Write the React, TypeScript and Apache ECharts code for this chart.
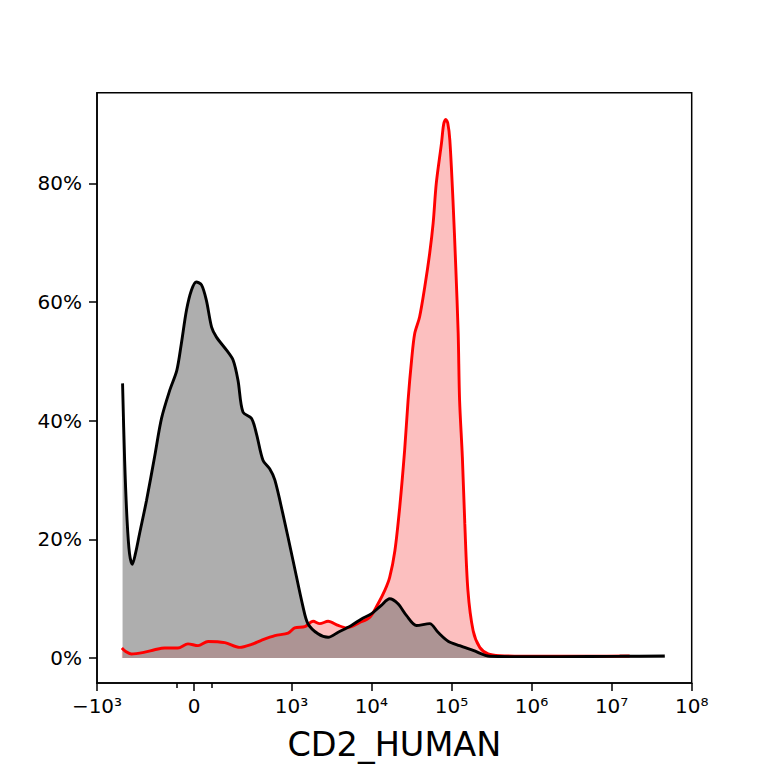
import { useEffect, useRef } from "react";
import * as echarts from "echarts";

// channel shown on the x axis
const CHANNEL = "CD2_HUMAN";

// x values are in transformed channel units: asinh(intensity / cofactor)
const COFACTOR = 122.7;

// control sample (black outline, grey fill)
const CONTROL_X = [
  -2.06, -2.0, -1.93, -1.86, -1.78, -1.69, -1.57, -1.37, -1.14, -0.94, -0.7, -0.5, -0.37, -0.22,
  -0.08, 0.06, 0.21, 0.35, 0.5, 0.64, 0.93, 1.12, 1.26, 1.4, 1.65, 1.79, 1.98, 2.17, 2.32, 2.55,
  2.84, 3.13, 3.27, 3.56, 3.85, 4.14, 4.52, 4.81, 5.1, 5.38, 5.62, 5.86, 6.1, 6.39, 6.77, 7.01,
  7.3, 7.63, 8.02, 8.5, 9.16, 10.51, 12.23, 13.53,
];
const CONTROL_Y = [
  46.3, 33.3, 23.2, 17.6, 15.8, 17.6, 21.0, 26.6, 33.9, 40.4, 45.2, 48.5, 53.0, 58.7, 62.0, 63.4,
  62.9, 60.3, 55.8, 54.1, 51.9, 50.2, 46.8, 41.5, 40.4, 37.8, 33.3, 31.9, 30.0, 24.3, 16.5, 8.6,
  5.8, 4.1, 3.5, 4.35, 5.5, 6.6, 7.5, 8.9, 10.0, 9.15, 7.2, 5.5, 5.8, 4.35, 2.85, 2.1, 1.3, 0.3,
  0.25, 0.25, 0.3, 0.35,
];

// stained sample (red outline, pink fill)
const STAINED_X = [
  -2.08, -1.97, -1.81, -1.42, -1.14, -0.85, -0.47, -0.18, 0.11, 0.4, 0.88, 1.31, 1.65, 1.93, 2.32,
  2.7, 2.89, 3.18, 3.42, 3.61, 3.85, 4.14, 4.38, 4.76, 5.05, 5.29, 5.48, 5.62, 5.77, 5.91, 6.05,
  6.15, 6.25, 6.34, 6.48, 6.63, 6.77, 6.87, 6.96, 7.11, 7.17, 7.23, 7.29, 7.35, 7.44, 7.52, 7.59,
  7.63, 7.71, 7.78, 7.87, 8.02, 8.21, 8.45, 8.78, 9.93, 11.37, 12.52,
];
const STAINED_Y = [
  1.7, 1.1, 0.7, 1.0, 1.4, 1.7, 1.7, 2.4, 2.1, 2.8, 2.6, 1.8, 2.3, 3.0, 3.8, 4.2, 5.1, 5.3, 6.2,
  5.8, 6.2, 5.5, 5.1, 6.0, 6.9, 9.2, 11.4, 13.6, 18.1, 25.5, 35.0, 43.5, 50.2, 54.7, 57.5, 62.6,
  68.2, 73.3, 80.0, 86.8, 89.9, 90.8, 90.2, 87.3, 77.2, 66.0, 54.7, 43.5, 33.9, 22.7, 11.4, 4.6,
  1.8, 0.7, 0.4, 0.3, 0.3, 0.35,
];

// axis ticks, given as intensities
const X_TICK_VALUES = [-1e3, 0, 1e3, 1e4, 1e5, 1e6, 1e7, 1e8];
const X_TICK_LABELS = ["−10³", "0", "10³", "10⁴", "10⁵", "10⁶", "10⁷", "10⁸"];
const X_MINOR_TICK_VALUES = [-65, 65];
const Y_TICK_VALUES = [0, 20, 40, 60, 80];

const toAxis = (v: number) => Math.asinh(v / COFACTOR);
const zip = (xs: number[], ys: number[]) => xs.map((x, i) => [x, ys[i]]);

const FONT = "DejaVu Sans";

function buildOption(): echarts.EChartsCoreOption {
  const majorPos = X_TICK_VALUES.map(toAxis);
  const minorPos = X_MINOR_TICK_VALUES.map(toAxis);
  const xMin = majorPos[0];
  const xMax = majorPos[majorPos.length - 1];
  const control = zip(CONTROL_X, CONTROL_Y);
  const stained = zip(STAINED_X, STAINED_Y);
  const tickLine = { color: "#000", width: 1.5 };

  return {
    animation: false,
    backgroundColor: "#fff",
    textStyle: { fontFamily: FONT },
    grid: {
      left: 97,
      top: 92.7,
      right: 76.3,
      bottom: 85,
      show: true,
      borderColor: "#000",
      borderWidth: 1.5,
    },
    xAxis: [
      {
        type: "value",
        min: xMin,
        max: xMax,
        axisLine: { show: true, onZero: false, lineStyle: tickLine },
        splitLine: { show: false },
        axisTick: { show: true, customValues: majorPos, length: 8, lineStyle: tickLine },
        axisLabel: {
          customValues: majorPos,
          color: "#000",
          fontSize: 20,
          fontFamily: FONT,
          margin: 13,
          hideOverlap: false,
          formatter: (v: number) => {
            const i = majorPos.findIndex((p) => Math.abs(p - v) < 1e-6);
            return i >= 0 ? X_TICK_LABELS[i] : "";
          },
        },
        name: CHANNEL,
        nameLocation: "middle",
        nameGap: 44,
        nameTextStyle: { fontSize: 33.5, color: "#000", fontFamily: FONT },
      },
      {
        // minor ticks near zero
        type: "value",
        position: "bottom",
        min: xMin,
        max: xMax,
        axisLine: { show: false, onZero: false },
        splitLine: { show: false },
        axisLabel: { show: false },
        axisTick: { show: true, customValues: minorPos, length: 5, lineStyle: tickLine },
      },
    ],
    yAxis: {
      type: "value",
      min: -4.2,
      max: 95.3,
      axisLine: { show: true, onZero: false, lineStyle: tickLine },
      splitLine: { show: false },
      axisTick: { show: true, customValues: Y_TICK_VALUES, length: 8, lineStyle: tickLine },
      axisLabel: {
        customValues: Y_TICK_VALUES,
        color: "#000",
        fontSize: 20,
        fontFamily: FONT,
        margin: 15,
        formatter: "{value}%",
      },
    },
    series: [
      {
        name: "stained fill",
        type: "line",
        data: stained,
        smooth: 0.3,
        showSymbol: false,
        lineStyle: { width: 0, opacity: 0 },
        areaStyle: { color: "rgba(245,0,0,0.25)", opacity: 1 },
        z: 1,
      },
      {
        name: "control fill",
        type: "line",
        data: control,
        smooth: 0.3,
        showSymbol: false,
        lineStyle: { width: 0, opacity: 0 },
        areaStyle: { color: "rgba(120,120,120,0.6)", opacity: 1 },
        z: 2,
      },
      {
        name: "stained",
        type: "line",
        data: stained,
        smooth: 0.3,
        showSymbol: false,
        lineStyle: { color: "#ff0000", width: 2.9 },
        z: 3,
      },
      {
        name: "control",
        type: "line",
        data: control,
        smooth: 0.3,
        showSymbol: false,
        lineStyle: { color: "#000000", width: 2.9 },
        z: 4,
      },
    ],
  };
}

export default function App() {
  const chartRef = useRef<HTMLDivElement>(null);

  useEffect(() => {
    if (!chartRef.current) return;
    const chart = echarts.init(chartRef.current, undefined, { renderer: "svg" });
    chart.setOption(buildOption());
    return () => chart.dispose();
  }, []);

  return (
    <div
      ref={chartRef}
      style={{ position: "fixed", left: 0, top: 0, width: 768, height: 768, background: "#fff" }}
    />
  );
}
